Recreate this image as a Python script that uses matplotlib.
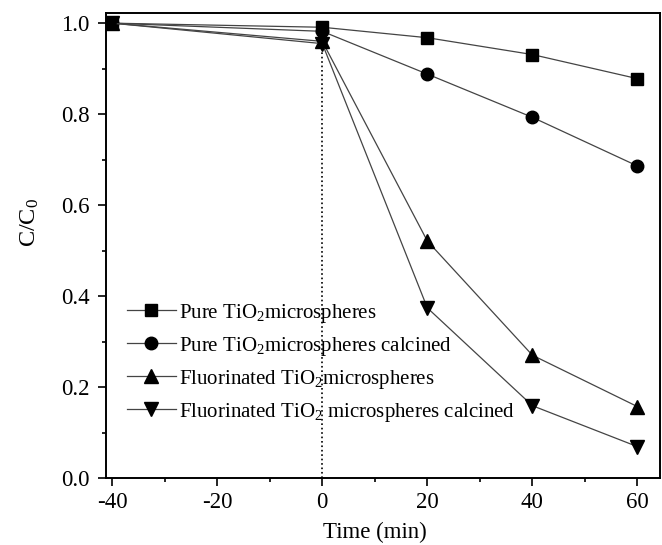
import numpy as np
import matplotlib
matplotlib.use("Agg")
import matplotlib.pyplot as plt
from matplotlib.ticker import MultipleLocator, FormatStrFormatter

plt.rcParams['font.family'] = ['Liberation Serif', 'DejaVu Serif']
plt.rcParams['mathtext.fontset'] = 'custom'
plt.rcParams['mathtext.rm'] = 'Liberation Serif'
plt.rcParams['mathtext.default'] = 'regular'

# tiempos de muestreo (min)
time = [-40, 0, 20, 40, 60]

# C/C0
pure = [1.0, 0.991, 0.968, 0.931, 0.878]
pure_calc = [1.0, 0.982, 0.888, 0.793, 0.686]
fluor = [1.0, 0.960, 0.521, 0.270, 0.157]
fluor_calc = [1.0, 0.955, 0.374, 0.159, 0.069]

labels = ["Pure TiO$_2$microspheres",
          "Pure TiO$_2$microspheres calcined",
          "Fluorinated TiO$_2$microspheres",
          "Fluorinated TiO$_2$ microspheres calcined"]
markers = ['s', 'o', '^', 'v']
sizes = [8.5, 9, 10, 10]

xticks = [-40, -20, 0, 20, 40, 60]
xticklabels = ['-40', '-20', '0', '20', '40', '60']

fig = plt.figure(figsize=(6.62, 5.45), dpi=100)
ax = fig.add_axes([0.160, 0.1229, 0.837, 0.8538])

for y, lab, m, s in zip([pure, pure_calc, fluor, fluor_calc], labels, markers, sizes):
    ax.plot(time, y, color='#444444', lw=0.9, marker=m, ms=s,
            mfc='black', mec='black', label=lab)

# linea punteada en t = 0
ax.axvline(0, ymin=0, ymax=0.92, color='black', ls=':', lw=1.2, zorder=0)

ax.set_xlim(-41.2, 64.3)
ax.set_ylim(0, 1.023)
ax.set_xticks(xticks)
ax.set_xticklabels(xticklabels)
ax.xaxis.set_minor_locator(MultipleLocator(10))
ax.yaxis.set_major_locator(MultipleLocator(0.2))
ax.yaxis.set_minor_locator(MultipleLocator(0.1))
ax.yaxis.set_major_formatter(FormatStrFormatter('%.1f'))

ax.tick_params(which='both', direction='out', top=False, right=False,
               labelsize=16.5, width=1.2)
ax.tick_params(which='major', length=6, pad=4)
ax.tick_params(axis='y', which='major', pad=6)
ax.tick_params(which='minor', length=3)
for sp in ax.spines.values():
    sp.set_linewidth(1.4)

ax.set_xlabel("Time (min)", fontsize=16.5)
ax.xaxis.set_label_coords(0.485, -0.094)
ax.set_ylabel("C/C$_0$", fontsize=17.5)
ax.yaxis.set_label_coords(-0.117, 0.55)

ax.legend(loc='upper left', bbox_to_anchor=(0.023, 0.397), frameon=False,
          fontsize=15, handlelength=2.35, handletextpad=0.15,
          labelspacing=0.48, borderaxespad=0)

fig.savefig("out.png", dpi=100)
